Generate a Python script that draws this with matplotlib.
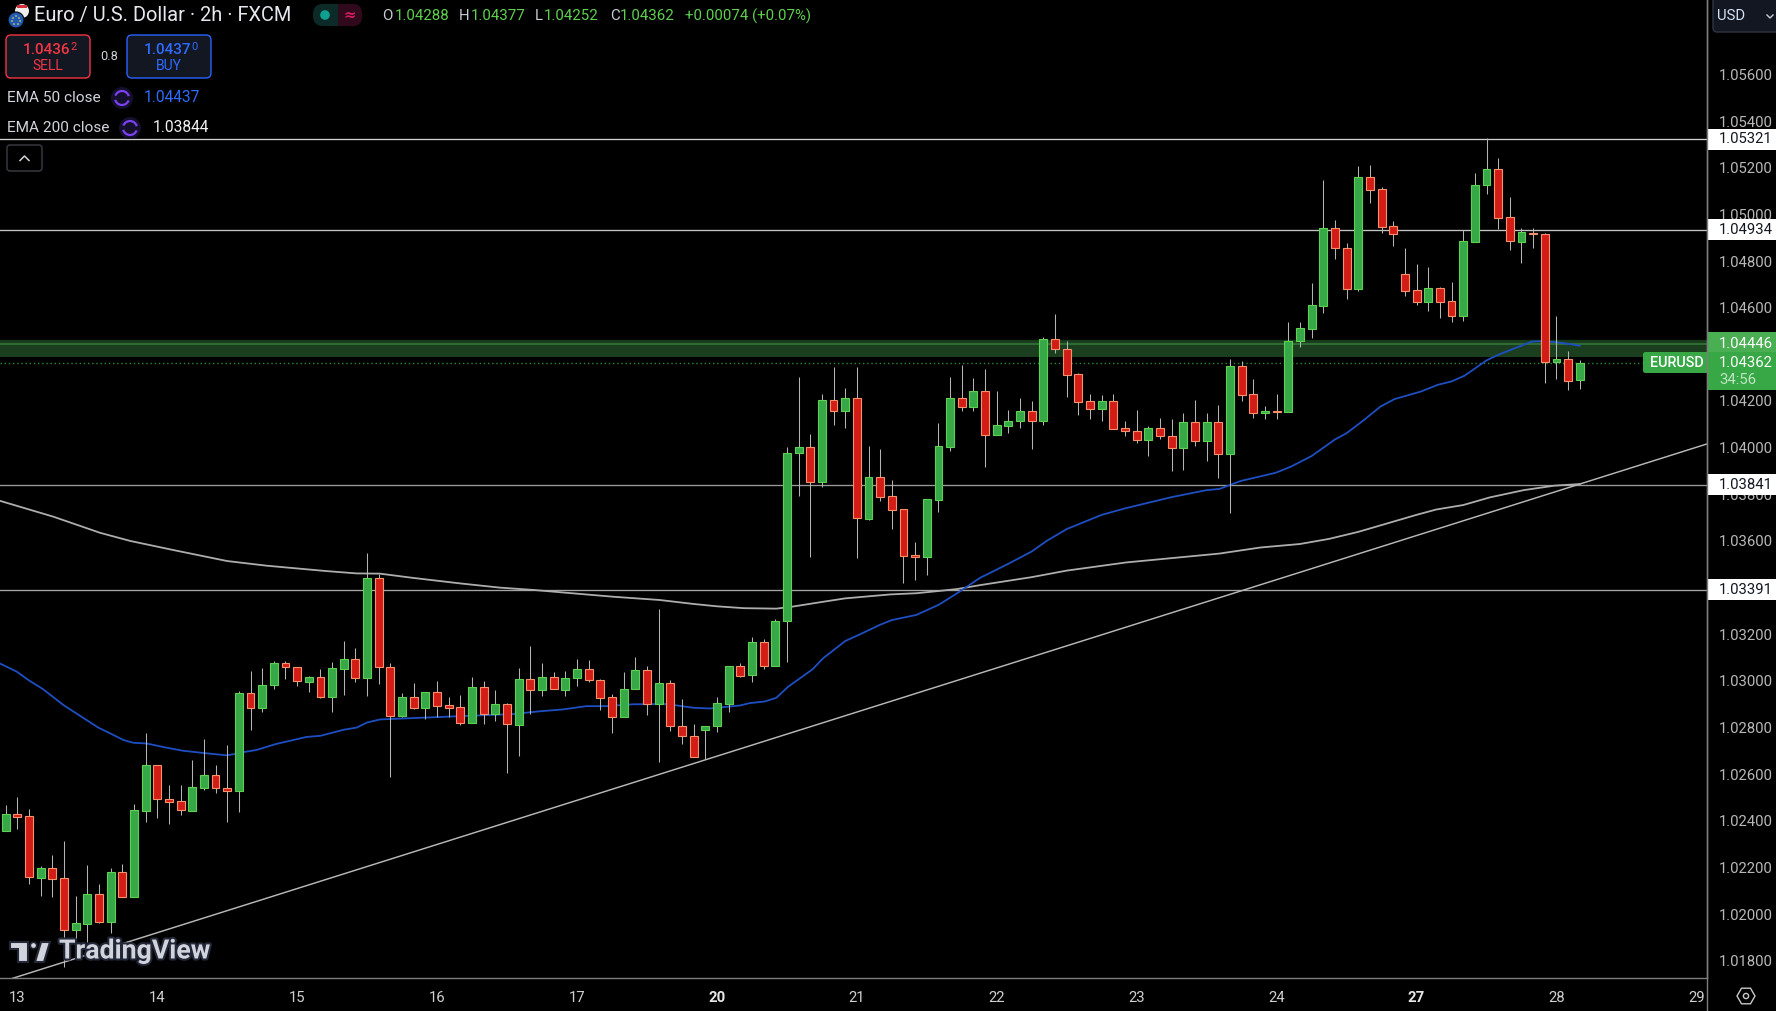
import matplotlib
matplotlib.use("Agg")
import matplotlib.pyplot as plt
from matplotlib.patches import Rectangle, FancyBboxPatch, Circle, Polygon, RegularPolygon, Arc
from matplotlib.lines import Line2D
import matplotlib.patheffects as pe

FONT = "Roboto"
plt.rcParams["font.family"] = [FONT, "DejaVu Sans"]

# ---- OHLC of the 2h candles ----
opens = [
 1.02358,1.02430,1.02421,1.02157,1.02198,1.02155,1.01934,1.01960,1.02087,1.01968,
 1.02181,1.02072,1.02444,1.02640,1.02492,1.02484,1.02444,1.02542,1.02597,1.02541,
 1.02530,1.02948,1.02882,1.02981,1.03077,1.03060,1.02997,1.03017,1.02932,1.03052,
 1.03094,1.03011,1.03441,1.03060,1.02851,1.02931,1.02885,1.02952,1.02897,1.02888,
 1.02821,1.02974,1.02860,1.02901,1.02812,1.03008,1.02962,1.03017,1.02962,1.03011,
 1.03051,1.03004,1.02931,1.02844,1.02964,1.03047,1.02900,1.02991,1.02807,1.02764,
 1.02791,1.02805,1.02902,1.03064,1.03024,1.03167,1.03062,1.03256,1.03976,1.04001,
 1.03852,1.04206,1.04156,1.04211,1.03696,1.03876,1.03791,1.03735,1.03538,1.03531,
 1.03775,1.04002,1.04211,1.04173,1.04245,1.04053,1.04092,1.04115,1.04156,1.04115,
 1.04464,1.04425,1.04315,1.04198,1.04165,1.04198,1.04083,1.04073,1.04032,1.04086,
 1.04052,1.03998,1.04112,1.04028,1.04108,1.03972,1.04352,1.04228,1.04148,1.04156,
 1.04152,1.04458,1.04509,1.04608,1.04941,1.04855,1.04681,1.05159,1.05108,1.04949,
 1.04744,1.04675,1.04625,1.04684,1.04628,1.04564,1.04882,1.05124,1.05194,1.04988,
 1.04882,1.04922,1.04915,1.04366,1.04379,1.04288]
highs = [
 1.02468,1.02502,1.02451,1.02207,1.02254,1.02314,1.02078,1.02211,1.02130,1.02198,
 1.02215,1.02472,1.02777,1.02640,1.02554,1.02554,1.02661,1.02751,1.02641,1.02725,
 1.02958,1.03044,1.03057,1.03087,1.03084,1.03060,1.03022,1.03052,1.03082,1.03172,
 1.03142,1.03547,1.03457,1.03078,1.02950,1.02992,1.02952,1.03001,1.02931,1.02941,
 1.03018,1.03001,1.02962,1.02904,1.03057,1.03151,1.03078,1.03040,1.03044,1.03095,
 1.03091,1.03008,1.02942,1.03040,1.03104,1.03065,1.03310,1.03005,1.02924,1.02817,
 1.02807,1.02932,1.03065,1.03075,1.03190,1.03178,1.03267,1.04002,1.04302,1.04058,
 1.04229,1.04345,1.04255,1.04345,1.04009,1.03993,1.03861,1.03735,1.03595,1.03778,
 1.04105,1.04302,1.04353,1.04298,1.04336,1.04242,1.04161,1.04211,1.04199,1.04476,
 1.04573,1.04458,1.04319,1.04229,1.04225,1.04229,1.04113,1.04161,1.04092,1.04126,
 1.04122,1.04148,1.04203,1.04148,1.04182,1.04379,1.04371,1.04293,1.04179,1.04229,
 1.04539,1.04539,1.04705,1.05148,1.04976,1.04876,1.05208,1.05212,1.05116,1.04971,
 1.04855,1.04786,1.04774,1.04688,1.04709,1.04935,1.05176,1.05326,1.05241,1.05074,
 1.04941,1.04941,1.04922,1.04564,1.04415,1.04377]
lows = [
 1.02358,1.02365,1.02130,1.02078,1.02075,1.01775,1.01868,1.01882,1.01964,1.01921,
 1.02072,1.02072,1.02397,1.02414,1.02388,1.02425,1.02444,1.02532,1.02521,1.02397,
 1.02440,1.02791,1.02868,1.02965,1.03008,1.02980,1.02954,1.02928,1.02868,1.02941,
 1.02997,1.02937,1.02988,1.02590,1.02847,1.02881,1.02838,1.02847,1.02847,1.02812,
 1.02821,1.02817,1.02828,1.02607,1.02680,1.02860,1.02937,1.02964,1.02937,1.02980,
 1.02997,1.02877,1.02778,1.02844,1.02964,1.02855,1.02654,1.02785,1.02731,1.02672,
 1.02664,1.02782,1.02868,1.03018,1.02997,1.03052,1.03062,1.03083,1.03791,1.03533,
 1.03833,1.04095,1.04086,1.03529,1.03688,1.03773,1.03653,1.03418,1.03431,1.03456,
 1.03726,1.03985,1.04159,1.04156,1.03919,1.04053,1.04061,1.04083,1.03996,1.04096,
 1.04404,1.04219,1.04138,1.04121,1.04116,1.04079,1.04052,1.04018,1.03966,1.04039,
 1.03898,1.03903,1.04009,1.03941,1.03868,1.03718,1.04199,1.04125,1.04122,1.04122,
 1.04152,1.04431,1.04469,1.04576,1.04809,1.04636,1.04671,1.05049,1.04919,1.04865,
 1.04651,1.04611,1.04585,1.04555,1.04539,1.04542,1.04882,1.05088,1.04936,1.04848,
 1.04791,1.04855,1.04276,1.04294,1.04246,1.04252]
closes = [
 1.02430,1.02418,1.02158,1.02198,1.02152,1.01934,1.01962,1.02087,1.01968,1.02181,
 1.02072,1.02447,1.02640,1.02492,1.02482,1.02445,1.02545,1.02597,1.02540,1.02530,
 1.02948,1.02882,1.02982,1.03077,1.03058,1.02998,1.03017,1.02932,1.03055,1.03095,
 1.03011,1.03441,1.03058,1.02851,1.02931,1.02885,1.02952,1.02894,1.02885,1.02821,
 1.02974,1.02860,1.02901,1.02814,1.03008,1.02962,1.03017,1.02964,1.03012,1.03051,
 1.03002,1.02928,1.02844,1.02965,1.03047,1.02900,1.02991,1.02805,1.02762,1.02672,
 1.02807,1.02905,1.03065,1.03022,1.03167,1.03062,1.03257,1.03979,1.04001,1.03852,
 1.04206,1.04156,1.04211,1.03698,1.03876,1.03788,1.03732,1.03535,1.03533,1.03778,
 1.04005,1.04211,1.04173,1.04245,1.04053,1.04095,1.04116,1.04156,1.04113,1.04464,
 1.04422,1.04312,1.04196,1.04165,1.04199,1.04079,1.04071,1.04032,1.04086,1.04051,
 1.03998,1.04112,1.04028,1.04108,1.03972,1.04352,1.04226,1.04149,1.04155,1.04151,
 1.04459,1.04512,1.04611,1.04941,1.04854,1.04682,1.05159,1.05106,1.04946,1.04916,
 1.04672,1.04625,1.04684,1.04625,1.04565,1.04885,1.05125,1.05194,1.04986,1.04884,
 1.04924,1.04914,1.04369,1.04379,1.04286,1.04362]

# ---- EMA curves, read at these bar positions ----
ema50_bar = [-0.5,0.95,1.95,3.2,4.95,6.4,7.95,9.1,10.1,10.95,12.1,13.8,15.2,17,19,20.4,21.5,23.2,25.8,27,29,30.1,31,32.1,35.5,
 40.4,43.5,45.8,47.8,49.8,51.5,53.8,56.7,59,60.4,63,63.8,65.1,66.1,67.1,69.2,70.1,72,73.1,75,76,78.1,80,81.6,83.6,84.1,86.1,
 88,89.3,91,94,96.1,100,103,104.1,105.9,108.9,110.2,112,114,115,116.5,117.9,119.1,121.4,122.8,124,125.1,127,128,130.9,131.7,133,134,135]
ema50_val = [1.03075,1.03040,1.03004,1.02965,1.02897,1.02850,1.02800,1.02772,1.02747,1.02735,1.02732,1.02714,1.02701,1.02691,1.02681,
 1.02695,1.02704,1.02730,1.02760,1.02765,1.02791,1.02800,1.02822,1.02835,1.02842,1.02852,1.02858,1.02870,1.02878,1.02892,1.02892,
 1.02900,1.02901,1.02885,1.02882,1.02895,1.02905,1.02912,1.02928,1.02975,1.03050,1.03097,1.03171,1.03196,1.03241,1.03261,1.03283,
 1.03326,1.03376,1.03443,1.03455,1.03505,1.03555,1.03601,1.03651,1.03712,1.03741,1.03788,1.03818,1.03823,1.03857,1.03892,1.03918,
 1.03964,1.04035,1.04062,1.04119,1.04176,1.04208,1.04241,1.04269,1.04284,1.04308,1.04374,1.04398,1.04455,1.04456,1.04452,1.04445,1.04437]
ema200_bar = [-0.48,4.1,8.1,10.7,14.4,19,22.4,27.5,30.1,32.1,34.9,39,42.4,45.3,48.1,52.1,56.1,59,61,63.3,66.1,67.4,69.8,72,75.9,78.1,
 80.1,81.6,83.6,88,91,96.1,104.1,107.6,111,113.5,116,121,122.7,125,127.3,130.2,132.8,135]
ema200_val = [1.03772,1.03704,1.03635,1.03600,1.03561,1.03514,1.03494,1.03471,1.03461,1.03460,1.03442,1.03418,1.03400,1.03390,1.03378,
 1.03361,1.03347,1.03330,1.03320,1.03312,1.03310,1.03318,1.03337,1.03354,1.03371,1.03376,1.03386,1.03394,1.03411,1.03445,1.03473,
 1.03508,1.03546,1.03572,1.03587,1.03609,1.03639,1.03712,1.03735,1.03754,1.03787,1.03818,1.03837,1.03844]

# ---- Annotations ----
level_prices = [1.05321, 1.04934, 1.03841, 1.03391]
level_labels = ["1.05321", "1.04934", "1.03841", "1.03391"]
trend_bar = [0.57, 145.91]
trend_val = [1.01725, 1.04016]
zone_low, zone_high, zone_mid = 1.04389, 1.04462, 1.04446
last_price = 1.04362

day_ticks = [1, 13, 25, 37, 49, 61, 73, 85, 97, 109, 121, 133, 145]
day_labels = ["13", "14", "15", "16", "17", "20", "21", "22", "23", "24", "27", "28", "29"]
bold_days = ["20", "27"]
price_ticks = [1.018, 1.020, 1.022, 1.024, 1.026, 1.028, 1.030, 1.032, 1.036, 1.038, 1.040,
               1.042, 1.046, 1.048, 1.050, 1.052, 1.054, 1.056]

W, H = 1776, 1011
AX_R, AX_B = 1707, 978
fig = plt.figure(figsize=(W/100, H/100), dpi=100, facecolor="black")
ax = fig.add_axes([0, (H-AX_B)/H, AX_R/W, AX_B/H], facecolor="black")
ax.set_xlim(-0.484, 145.91)
ax.set_ylim(1.017268, 1.059188)

GRN_F, GRN_E, RED_F, RED_E = "#36a847", "#5fd150", "#d21d17", "#f5916b"
WICK = "#b4b4b4"

# zone
ax.axhspan(zone_low, zone_high, color="#1b3e1f", lw=0, zorder=1)
ax.axhline(zone_mid, color="#2f6e35", lw=1.4, zorder=1.2)
ax.axhline(zone_high, color="#123a18", lw=1.0, zorder=1.1)
ax.plot([-0.484, 140.35], [last_price, last_price], color="#2b8a3a", lw=1.0, ls=(0, (1, 2)), zorder=1.3)

# levels / trendline / EMAs
for lv, c in zip(level_prices, ["#cfcfcf", "#c4c4c4", "#9a9a9a", "#a4a4a4"]):
    ax.axhline(lv, color=c, lw=0.95, zorder=2)
ax.plot(trend_bar, trend_val, color="#b8b8b8", lw=1.05, zorder=2.1)
ax.plot(ema200_bar, ema200_val, color="#adadad", lw=1.3, zorder=2.2)
ax.plot(ema50_bar, ema50_val, color="#1e4fc2", lw=1.3, zorder=2.3)

# candles
xs = list(range(len(opens)))
ax.vlines(xs, lows, highs, color=WICK, lw=0.75, zorder=3)
tops = [max(o, c) for o, c in zip(opens, closes)]
bots = [min(o, c) for o, c in zip(opens, closes)]
fills = [GRN_F if c >= o else RED_F for o, c in zip(opens, closes)]
edges = [GRN_E if c >= o else RED_E for o, c in zip(opens, closes)]
ax.bar(xs, [t-b for t, b in zip(tops, bots)], bottom=bots, width=0.68, color=fills, edgecolor=edges, linewidth=0.8, zorder=4)

# axes
for s in ["top", "left"]:
    ax.spines[s].set_visible(False)
ax.spines["right"].set_color("#7d7d7d")
ax.spines["bottom"].set_color("#7d7d7d")
ax.spines["right"].set_linewidth(1.0)
ax.spines["bottom"].set_linewidth(1.0)
ax.set_xticks(day_ticks)
ax.set_xticklabels(day_labels)
ax.yaxis.tick_right()
ax.set_yticks(price_ticks)
ax.set_yticklabels([f"{p:.5f}" for p in price_ticks])
ax.tick_params(axis="x", length=0, pad=9.5, labelsize=10.7, colors="#d0d0d0")
ax.tick_params(axis="y", length=0, pad=8.6, labelsize=10.7, colors="#b8b8b8")
for t in ax.get_xticklabels():
    if t.get_text() in bold_days:
        t.set_fontweight("bold")
        t.set_color("#e8e8e8")

# UI overlay in pixel coordinates
ui = fig.add_axes([0, 0, 1, 1], facecolor="none")
ui.set_xlim(0, W)
ui.set_ylim(H, 0)
ui.axis("off")

def T(x, y, s, color="#d1d4dc", size=10, ha="left", va="center", weight="normal", z=10, **kw):
    return ui.text(x, y, s, color=color, fontsize=size, ha=ha, va=va, fontweight=weight, zorder=z, **kw)

def round_box(x0, y0, x1, y1, r, fc, ec, lw=1.0, z=8):
    ui.add_patch(FancyBboxPatch((x0+r, y0+r), x1-x0-2*r, y1-y0-2*r, boxstyle=f"round,pad={r},rounding_size={r}",
                                fc=fc, ec=ec, lw=lw, zorder=z))

# price labels on the right axis
def ylab(p):
    return 167.7 + (1.052 - p) * 23330

for p, s in zip(level_prices, level_labels):
    yy = ylab(p)
    ui.add_patch(Rectangle((1708, yy-10.5), W-1708, 21, fc="white", ec="none", zorder=7))
    T(1719, yy, s, color="#131722", size=10.7)
yy = ylab(zone_mid)
ui.add_patch(Rectangle((1708, 332), W-1708, 20, fc="#4aae52", ec="none", zorder=7))
T(1719, yy, "1.04446", color="white", size=10.7)
ui.add_patch(Rectangle((1708, 352), W-1708, 38, fc="#37a845", ec="none", zorder=7))
T(1719, ylab(last_price), "1.04362", color="white", size=10.7)
T(1719, 380, "34:56", color="#c2e4c6", size=10.7)
round_box(1643, 352, 1712, 373, 2.5, "#37a845", "none", z=6.5)
T(1650, 362.8, "EURUSD", color="white", size=10.4, weight="medium")
ui.add_line(Line2D([1707, 1707], [0, H], color="#7d7d7d", lw=1.0, zorder=7.5))

# USD button
round_box(1713, -6, W+8, 32, 4, "#131722", "#2f3440", lw=1.0)
T(1717, 16, "USD", color="#d6e4f5", size=10.7)
ui.add_line(Line2D([1767, 1770, 1773], [15, 18, 15], color="#c8ccd4", lw=1.0, zorder=10))

# settings hexagon
ui.add_patch(RegularPolygon((1746, 996), 6, radius=9, orientation=0.5236, fc="none", ec="#c8c8c8", lw=1.0, zorder=10))
ui.add_patch(Circle((1746, 996), 2.6, fc="none", ec="#c8c8c8", lw=1.0, zorder=10))

# header
T(34, 16, "Euro / U.S. Dollar · 2h · FXCM", color="#e6e8ee", size=14.4)
ui.add_patch(Circle((22, 11), 7, fc="#eee", ec="none", zorder=9))
ui.add_patch(Rectangle((17, 5), 10, 3, fc="#d5303a", ec="none", zorder=9.1))
ui.add_patch(Circle((16, 20), 8, fc="#1f5bb5", ec="black", lw=0.8, zorder=9.5))
for dx, dy in [(0, -4), (3, -2), (4, 1), (2, 4), (-2, 4), (-4, 1), (-3, -2)]:
    ui.add_patch(Circle((16+dx, 20+dy), 0.8, fc="#ffd83a", ec="none", zorder=9.6))

ui.add_patch(FancyBboxPatch((324, 4), 27, 22, boxstyle="round,pad=0,rounding_size=10", fc="#0b2a28", ec="none", zorder=8))
ui.add_patch(Rectangle((338, 4), 17, 22, fc="#300a1c", ec="none", zorder=8.1))
ui.add_patch(FancyBboxPatch((345, 4), 17, 22, boxstyle="round,pad=0,rounding_size=9", fc="#300a1c", ec="none", zorder=8.1))
ui.add_patch(Rectangle((313+10, 4), 14, 22, fc="#0b2a28", ec="none", zorder=8.2))
ui.add_patch(FancyBboxPatch((313, 4), 22, 22, boxstyle="round,pad=0,rounding_size=10", fc="#0b2a28", ec="none", zorder=8.2))
ui.add_patch(Circle((325, 15), 4.8, fc="#0fa08f", ec="none", zorder=9))
T(349.5, 15, "≈", color="#d81b60", size=10.5, ha="center", family="DejaVu Sans", weight="bold")

ohlc = [(382, "O", "#c8ccd4"), (395, "1.04288", "#5fd14f"), (459, "H", "#c8ccd4"), (471, "1.04377", "#5fd14f"),
        (535, "L", "#c8ccd4"), (544, "1.04252", "#5fd14f"), (610, "C", "#c8ccd4"), (620, "1.04362", "#5fd14f"),
        (685, "+0.00074 (+0.07%)", "#5fd14f")]
for x, s, c in ohlc:
    T(x, 16, s, color=c, size=10.8)

# sell / buy
round_box(6, 35, 90, 78, 5, "#131722", "#f23645", lw=1.0)
round_box(127, 35, 211, 78, 5, "#131722", "#2962ff", lw=1.0)
T(70, 49.5, "1.0436", color="#f23645", size=11, ha="right", weight="medium")
T(70, 46.5, "2", color="#f23645", size=8)
T(48, 66, "SELL", color="#f23645", size=10, ha="center")
T(191, 49.5, "1.0437", color="#2f6bff", size=11, ha="right", weight="medium")
T(191, 46.5, "0", color="#2f6bff", size=8)
T(169, 66, "BUY", color="#2f6bff", size=10, ha="center")
T(109, 56, "0.8", color="#d1d4dc", size=9.2, ha="center")

# indicator legends
def sync(cx, cy):
    ui.add_patch(Circle((cx, cy), 11, fc="#14102c", ec="none", zorder=8))
    ui.add_patch(Arc((cx, cy), 14, 14, theta1=20, theta2=165, ec="#7b3ff2", lw=1.6, zorder=9))
    ui.add_patch(Arc((cx, cy), 14, 14, theta1=200, theta2=345, ec="#7b3ff2", lw=1.6, zorder=9))

T(7, 98, "EMA 50 close", color="#d1d4dc", size=11.1)
sync(122, 98)
T(144, 98, "1.04437", color="#2f6bff", size=11.2)
T(7, 128, "EMA 200 close", color="#d1d4dc", size=11.1)
sync(130, 128)
T(153, 128, "1.03844", color="#f2f2f2", size=11.2)

round_box(7, 145, 42, 171, 3, "black", "#3a3d45", lw=1.0)
ui.add_line(Line2D([20, 24.5, 29], [160.5, 156, 160.5], color="#d1d4dc", lw=1.1, zorder=10))

# watermark
WM = "#d1d4dc"
stroke = [pe.withStroke(linewidth=3, foreground="#232838")]
for pts in ([(10, 942), (28, 942), (28, 962), (18, 962), (18, 949), (10, 949)],
            [(35, 962), (44, 962), (50, 942), (41, 942)]):
    ui.add_patch(Polygon(pts, closed=True, fc=WM, ec="#232838", lw=1.5, zorder=10))
ui.add_patch(Circle((33.5, 945.5), 3.2, fc=WM, ec="#232838", lw=1.2, zorder=10))
T(59, 951, "TradingView", color=WM, size=19.2, weight="bold", path_effects=stroke)

fig.savefig("out.png", dpi=100, facecolor="black")
